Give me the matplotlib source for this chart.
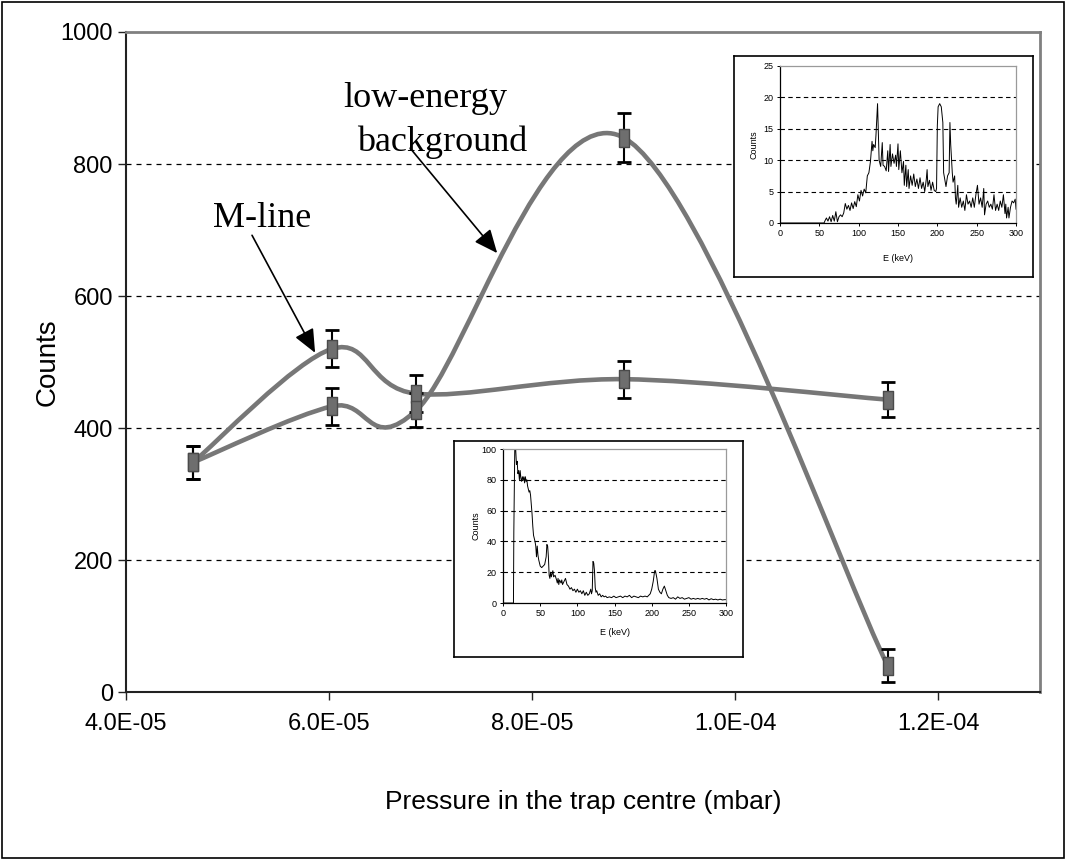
import numpy as np
import matplotlib.pyplot as plt
from matplotlib.path import Path
from matplotlib.patches import PathPatch, Rectangle
from matplotlib.ticker import FuncFormatter

# main chart data
pressure = [4.66e-5, 6.03e-5, 6.86e-5, 8.90e-5, 1.150e-4]
mline = [348, 520, 452, 474, 443]
mline_err = [25, 28, 28, 28, 27]
background = [348, 433, 427, 840, 40]
background_err = [25, 28, 26, 37, 25]

# inset 1 spectrum (upper right)
e1 = [0, 56, 57, 59, 61, 63, 65, 67, 69, 71, 73, 75, 77, 79, 81, 83, 85, 87, 89, 91,
      93, 95, 97, 99, 101, 103, 105, 107, 109, 111, 113, 115, 117, 118, 119, 121, 122,
      124, 125, 126, 128, 130, 131, 133, 135, 137, 138, 140, 141, 143, 145, 147, 148,
      150, 151, 153, 155, 157, 158, 160, 161, 163, 164, 166, 168, 170, 172, 174, 176,
      178, 180, 182, 184, 186, 187, 188, 190, 192, 194, 196, 198, 199, 200, 201, 203,
      205, 207, 208, 210, 211, 213, 215, 216, 217, 219, 220, 222, 223, 224, 226, 227,
      229, 231, 233, 235, 237, 239, 241, 243, 245, 247, 249, 251, 253, 255, 257, 259,
      260, 262, 264, 266, 268, 270, 272, 274, 276, 278, 280, 282, 284, 286, 287, 288,
      290, 291, 293, 295, 297, 299, 300]
c1 = [0, 0, 0.3, 0.8, 0.3, 1.0, 0.2, 1.2, 0.3, 1.8, 0.2, 1.0, 1.3, 1.0, 1.6, 3.1, 2.2,
      2.8, 2.0, 3.2, 2.3, 3.4, 2.6, 4.5, 3.5, 5.2, 4.3, 5.4, 4.8, 7.5, 8.0, 9.8, 13.0,
      11.5, 12.5, 12.0, 14.0, 19.0, 14.5, 10.0, 9.0, 12.8, 9.2, 9.0, 8.3, 11.5, 8.2,
      12.5, 9.0, 11.0, 9.5, 10.8, 9.0, 12.6, 8.5, 11.5, 8.0, 9.8, 6.0, 9.2, 5.8, 8.5,
      5.5, 7.5, 6.0, 7.8, 5.8, 7.0, 5.5, 7.2, 5.5, 6.5, 5.0, 7.0, 8.5, 5.8, 6.8, 5.2,
      6.5, 5.2, 5.0, 5.5, 15.5, 18.5, 19.0, 18.5, 16.0, 8.0, 6.5, 5.8, 7.5, 8.0, 16.0,
      12.5, 8.0, 6.5, 7.5, 4.0, 3.0, 6.0, 2.5, 4.0, 2.5, 3.5, 2.0, 4.5, 3.0, 3.5, 2.5,
      4.0, 2.5, 4.5, 6.0, 3.0, 4.0, 2.5, 5.5, 1.3, 3.0, 3.5, 2.5, 3.0, 2.2, 4.5, 2.0,
      3.0, 2.0, 3.5, 2.5, 4.5, 1.5, 3.0, 0.8, 2.5, 0.8, 2.5, 3.5, 3.2, 3.8, 2.2]

# inset 2 spectrum (lower middle)
e2 = [0, 14, 14.5, 16, 17, 18, 19, 20, 21, 22, 23, 24, 25, 26, 27, 28, 29, 30, 31, 32,
      33, 34, 35, 36, 37, 38, 39, 40, 41, 42, 43, 44, 45, 46, 47, 48, 49, 50, 52, 54,
      56, 58, 59, 60, 61, 62, 63, 64, 65, 66, 67, 68, 70, 72, 73, 74, 75, 76, 78, 79,
      80, 82, 84, 86, 88, 90, 92, 94, 96, 98, 100, 102, 104, 106, 108, 110, 112, 114,
      116, 118, 119, 120, 121, 122, 123, 124, 125, 126, 128, 130, 132, 134, 136, 138,
      140, 143, 146, 149, 152, 155, 158, 161, 164, 167, 170, 173, 176, 179, 182, 185,
      188, 191, 194, 196, 198, 200, 202, 204, 205, 207, 209, 211, 213, 215, 217, 219,
      221, 223, 226, 229, 232, 235, 238, 241, 244, 247, 250, 253, 256, 259, 262, 265,
      268, 271, 274, 277, 280, 283, 286, 289, 292, 295, 298, 300]
c2 = [0, 0, 46, 110, 100, 90, 92, 84, 86, 80, 86, 81, 79, 82, 80, 82, 78, 82, 79, 80,
      76, 74, 72, 73, 70, 64, 58, 50, 44, 42, 40, 37, 30, 37, 31, 28, 26, 24, 23, 24,
      25, 30, 38, 37, 30, 18, 16, 20, 17, 19, 21, 17, 18, 15, 13, 16, 12, 15, 13, 15,
      12, 14, 16, 12, 11, 9, 10, 8, 9, 7, 9, 7, 8, 6, 8, 5, 7, 5,
      6, 9, 6, 8, 27, 26, 21, 10, 7, 8, 5, 6, 4, 5, 4, 4.5,
      3.5, 4, 3.5, 4.5, 3.5, 4, 4.5, 3.5, 4.5, 4, 5, 3.5, 4.5, 4, 3.5, 4.5,
      4, 4.5, 4, 5, 6, 9, 14, 21, 21, 16, 9, 7, 6, 9, 11, 8,
      5, 3.5, 3, 3.5, 2.5, 4, 3, 3.5, 2.5, 3, 3.5, 2.5, 3, 2.5, 3, 2.5,
      3, 2.5, 3, 2, 2.8, 2.2, 2.5, 2, 2.5, 2, 2.2, 2.2]

serif = ['Liberation Serif', 'DejaVu Serif']
sans = ['Liberation Sans', 'DejaVu Sans']

line_grey = '#777777'


def smooth_path(xs, ys):
    # excel style smoothed line: cubic bezier through every point
    pts = np.column_stack([xs, ys])
    n = len(pts)
    verts = [pts[0]]
    codes = [Path.MOVETO]
    for i in range(n - 1):
        p0 = pts[max(i - 1, 0)]
        p1 = pts[i]
        p2 = pts[i + 1]
        p3 = pts[min(i + 2, n - 1)]
        verts += [p1 + (p2 - p0) / 6, p2 - (p3 - p1) / 6, p2]
        codes += [Path.CURVE4] * 3
    return Path(verts, codes)


fig = plt.figure(figsize=(10.66, 8.6), dpi=100)
fig.patches.append(Rectangle((0.002, 0.002), 0.996, 0.996, transform=fig.transFigure,
                             fill=False, edgecolor='black', linewidth=1.2))

ax = fig.add_axes([0.1182, 0.1953, 0.8574, 0.7675])
ax.set_xlim(4e-5, 1.3e-4)
ax.set_ylim(0, 1000)
ax.set_xticks([4e-5, 6e-5, 8e-5, 1e-4, 1.2e-4])
ax.set_yticks([0, 200, 400, 600, 800, 1000])
ax.xaxis.set_major_formatter(FuncFormatter(lambda v, p: f"{v:.1E}"))
for y in [200, 400, 600, 800]:
    ax.axhline(y, color='black', linewidth=0.9, dashes=(4, 4), zorder=1)

for s in ['left', 'bottom']:
    ax.spines[s].set_color('#222222')
    ax.spines[s].set_linewidth(1.5)
for s in ['top', 'right']:
    ax.spines[s].set_color('#808080')
    ax.spines[s].set_linewidth(2)
ax.tick_params(direction='out', length=6, width=1, colors='#222222')
ax.tick_params(axis='x', pad=9)
for lab in ax.get_xticklabels() + ax.get_yticklabels():
    lab.set_family(sans)
    lab.set_fontsize(17)
    lab.set_color('black')

ax.set_ylabel('Counts', family=sans, fontsize=20)
ax.yaxis.set_label_coords(-0.072, 0.5)
ax.set_xlabel('Pressure in the trap centre (mbar)', family=sans, fontsize=19)
ax.xaxis.set_label_coords(0.5, -0.148)

for ys in [mline, background]:
    ax.add_patch(PathPatch(smooth_path(pressure, ys), fill=False, edgecolor=line_grey,
                           linewidth=3.3, zorder=3, capstyle='round'))

marker_rect = [(-0.3, -0.5), (0.3, -0.5), (0.3, 0.5), (-0.3, 0.5), (-0.3, -0.5)]
for ys, err in [(mline, mline_err), (background, background_err)]:
    ax.errorbar(pressure, ys, yerr=err, fmt='none', ecolor='black', elinewidth=1.5,
                capsize=5, capthick=2, zorder=4)
    ax.plot(pressure, ys, linestyle='none', marker=marker_rect, markersize=13,
            markerfacecolor='#6e6e6e', markeredgecolor='#4a4a4a', markeredgewidth=1,
            zorder=5)

ax.text(5.345e-5, 704, 'M-line', family=serif, fontsize=26, ha='center', va='baseline')
ax.text(6.946e-5, 886, 'low-energy', family=serif, fontsize=26, ha='center', va='baseline')
ax.text(7.113e-5, 820, 'background', family=serif, fontsize=26, ha='center', va='baseline')
arrow = dict(arrowstyle='-|>,head_length=0.8,head_width=0.35', color='black', lw=1.2,
             shrinkA=0, shrinkB=0, mutation_scale=18)
ax.annotate('', xy=(5.862e-5, 514), xytext=(5.241e-5, 692), arrowprops=arrow, zorder=6)
ax.annotate('', xy=(7.655e-5, 665), xytext=(6.798e-5, 824), arrowprops=arrow, zorder=6)


def inset(box, inner, energy, counts, ymax, ystep, ylab_x, xlab_y):
    frame = fig.add_axes(box)
    frame.set_xticks([])
    frame.set_yticks([])
    for s in frame.spines.values():
        s.set_color('black')
        s.set_linewidth(1.2)
    a = fig.add_axes(inner)
    a.plot(energy, counts, color='black', linewidth=0.7)
    a.set_xlim(0, 300)
    a.set_ylim(0, ymax)
    a.set_xticks(range(0, 301, 50))
    a.set_yticks(np.arange(0, ymax + 1, ystep))
    for y in np.arange(ystep, ymax, ystep):
        a.axhline(y, color='black', linewidth=0.8, dashes=(4, 3), zorder=0)
    for s in ['left', 'bottom']:
        a.spines[s].set_color('black')
        a.spines[s].set_linewidth(0.9)
    for s in ['top', 'right']:
        a.spines[s].set_color('#9a9a9a')
        a.spines[s].set_linewidth(0.9)
    a.tick_params(direction='out', length=2.5, width=0.7, labelsize=6.5, pad=2)
    for lab in a.get_xticklabels() + a.get_yticklabels():
        lab.set_family(sans)
    a.set_xlabel('E (keV)', family=sans, fontsize=6.5)
    a.xaxis.set_label_coords(0.5, xlab_y)
    a.set_ylabel('Counts', family=sans, fontsize=6.5)
    a.yaxis.set_label_coords(ylab_x, 0.5)
    return a


inset([0.6886, 0.6779, 0.2805, 0.2570], [0.7317, 0.7407, 0.2214, 0.1826],
      e1, c1, 25, 5, -0.093, -0.197)
inset([0.4259, 0.2360, 0.2711, 0.2512], [0.4719, 0.2988, 0.2092, 0.1791],
      e2, c2, 100, 20, -0.099, -0.162)

fig.savefig('out.png', dpi=100)
